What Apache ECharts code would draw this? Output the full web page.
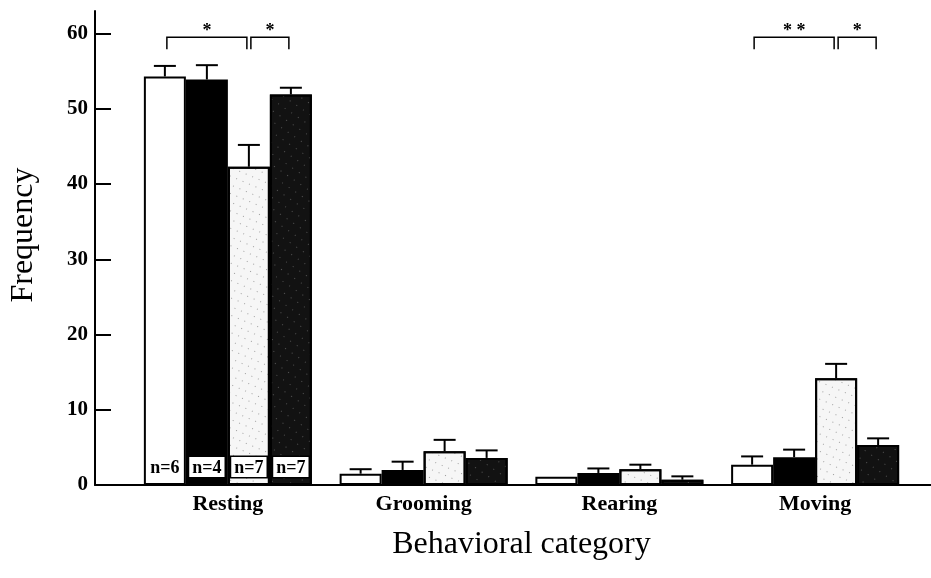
<!DOCTYPE html>
<html>
<head>
<meta charset="utf-8">
<script src="https://cdn.jsdelivr.net/npm/echarts@6/dist/echarts.min.js"></script>
<style>
  html, body { margin: 0; padding: 0; background: #fff; }
  #chart { width: 931px; height: 578px; }
</style>
</head>
<body>
<div id="chart"></div>
<script>
// categories on the x axis
const categories = ["Resting", "Grooming", "Rearing", "Moving"];

// means per group (white, black, light stipple, dark stipple)
const whiteMeans = [54.3, 1.5, 1.1, 2.7];
const blackMeans = [53.9, 2.0, 1.6, 3.7];
const lightMeans = [42.3, 4.5, 2.1, 14.2];
const darkMeans = [51.9, 3.6, 0.7, 5.3];

// SEM per group
const whiteErr = [1.4, 0.6, 0, 1.1];
const blackErr = [1.9, 1.1, 0.6, 1.0];
const lightErr = [2.9, 1.5, 0.6, 1.9];
const darkErr = [0.9, 1.0, 0.45, 0.9];

const sampleSizes = ["n=6", "n=4", "n=7", "n=7"];
const yTicks = [0, 10, 20, 30, 40, 50, 60];

// significance brackets: [category, from group, to group, level]
const brackets = [[0, 0, 2, 59.5], [0, 2, 3, 59.5], [3, 0, 2, 59.5], [3, 2, 3, 59.5]];
const bracketStars = ["*", "*", "* *", "*"];

const BAR_W = 42;
const FONT = "'Liberation Serif', 'Times New Roman', serif";

const groups = [
  { name: "white", means: whiteMeans, err: whiteErr, color: "#fff" },
  { name: "black", means: blackMeans, err: blackErr, color: "#000" },
  {
    name: "light", means: lightMeans, err: lightErr, color: "#f6f6f6",
    decal: { symbol: "rect", symbolSize: 1, dashArrayX: [1, 6], dashArrayY: [1, 7], rotation: 0.4, color: "rgba(0,0,0,0.35)" }
  },
  {
    name: "dark", means: darkMeans, err: darkErr, color: "#121212",
    decal: { symbol: "rect", symbolSize: 1, dashArrayX: [1, 7], dashArrayY: [1, 8], rotation: 0.6, color: "rgba(255,255,255,0.28)" }
  }
];

const offsetOf = (g) => (g - (groups.length - 1) / 2) * BAR_W;

const barSeries = groups.map((g, i) => ({
  type: "bar",
  name: g.name,
  xAxisIndex: 0,
  yAxisIndex: 0,
  barWidth: BAR_W,
  barGap: "0%",
  itemStyle: { color: g.color, borderColor: "#000", borderWidth: 2, decal: g.decal },
  data: g.means.map((v, j) => j === 0 ? {
    value: v,
    label: {
      show: true,
      position: "insideBottom",
      distance: 8,
      formatter: sampleSizes[i],
      fontFamily: FONT,
      fontSize: 18,
      fontWeight: "bold",
      color: "#000",
      backgroundColor: "#fff",
      borderColor: "#000",
      borderWidth: i === 0 ? 0 : 1.5,
      padding: [2, 3, 0, 3]
    }
  } : v)
}));

const errData = [];
groups.forEach((g, i) => g.means.forEach((v, j) => errData.push([j, v, g.err[j], i])));

const chart = echarts.init(document.getElementById("chart"));
chart.setOption({
  animation: false,
  backgroundColor: "#fff",
  textStyle: { fontFamily: FONT },
  grid: [
    { left: 130, right: 18, top: 11, bottom: 93 },
    { left: 95, right: 0, top: 11, bottom: 93 }
  ],
  xAxis: [
    {
      type: "category",
      gridIndex: 0,
      data: categories,
      axisLine: { show: false },
      axisTick: { show: false },
      axisLabel: { fontSize: 22, fontWeight: "bold", color: "#000", margin: 8, fontFamily: FONT },
      name: "Behavioral category",
      nameLocation: "middle",
      nameGap: 44,
      nameTextStyle: { fontSize: 32, color: "#000", fontFamily: FONT }
    },
    {
      type: "value",
      gridIndex: 1,
      min: 0,
      max: 1,
      axisLine: { show: true, lineStyle: { color: "#000", width: 2 } },
      axisTick: { show: false },
      axisLabel: { show: false },
      splitLine: { show: false }
    }
  ],
  yAxis: [
    {
      type: "value",
      gridIndex: 0,
      min: 0,
      max: 63,
      offset: 35,
      axisLine: { show: true, lineStyle: { color: "#000", width: 2 } },
      axisTick: { show: true, inside: true, length: 16, customValues: yTicks, lineStyle: { color: "#000", width: 2 } },
      axisLabel: { customValues: yTicks, fontSize: 21, fontWeight: "bold", color: "#000", margin: 7, fontFamily: FONT },
      splitLine: { show: false },
      name: "Frequency",
      nameLocation: "middle",
      nameGap: 55,
      nameTextStyle: { fontSize: 32, color: "#000", fontFamily: FONT, padding: [0, 0, 0, 26] }
    },
    { type: "value", gridIndex: 1, show: false, min: 0, max: 1 }
  ],
  series: [
    ...barSeries,
    {
      type: "custom",
      name: "sem",
      xAxisIndex: 0,
      yAxisIndex: 0,
      z: 5,
      data: errData,
      renderItem: (params, api) => {
        const sem = api.value(2);
        if (!sem) return;
        const base = api.coord([api.value(0), api.value(1)]);
        const tip = api.coord([api.value(0), api.value(1) + sem]);
        const x = base[0] + offsetOf(api.value(3));
        return {
          type: "group",
          children: [
            { type: "line", shape: { x1: x, y1: base[1], x2: x, y2: tip[1] }, style: { stroke: "#000", lineWidth: 2 } },
            { type: "line", shape: { x1: x - 11, y1: tip[1], x2: x + 11, y2: tip[1] }, style: { stroke: "#000", lineWidth: 2 } }
          ]
        };
      }
    },
    {
      type: "custom",
      name: "significance",
      xAxisIndex: 0,
      yAxisIndex: 0,
      z: 5,
      data: brackets,
      renderItem: (params, api) => {
        const c = api.coord([api.value(0), api.value(3)]);
        const x1 = c[0] + offsetOf(api.value(1)) + 2;
        const x2 = c[0] + offsetOf(api.value(2)) - 2;
        const y = c[1];
        return {
          type: "group",
          children: [
            {
              type: "polyline",
              shape: { points: [[x1, y + 12], [x1, y], [x2, y], [x2, y + 12]] },
              style: { stroke: "#000", lineWidth: 1.5, fill: null }
            },
            {
              type: "text",
              style: {
                x: (x1 + x2) / 2, y: y + 3,
                text: bracketStars[params.dataIndex],
                align: "center", verticalAlign: "bottom",
                font: "bold 18px " + FONT, fill: "#000"
              }
            }
          ]
        };
      }
    }
  ]
});
</script>
</body>
</html>
